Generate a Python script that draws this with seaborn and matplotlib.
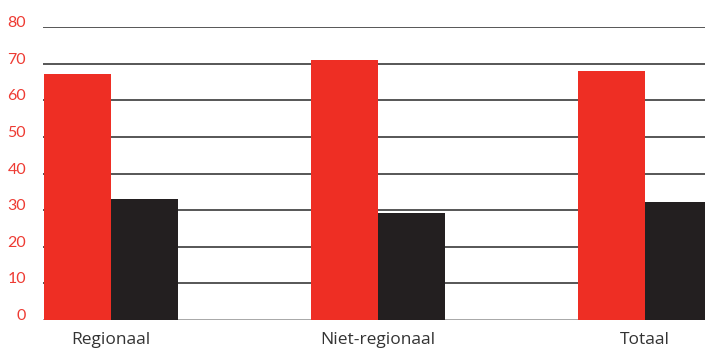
import matplotlib
matplotlib.use("Agg")
import matplotlib.pyplot as plt
import seaborn as sns
import pandas as pd

# Data
categories = ["Regionaal", "Niet-regionaal", "Totaal"]
series_names = ["reeks 1", "reeks 2"]
values_red = [67.2, 71.1, 68.0]
values_black = [33.1, 29.2, 32.2]
y_ticks = [0, 10, 20, 30, 40, 50, 60, 70, 80]

RED = "#EE2E24"
BLACK = "#231F20"

df = pd.DataFrame({
    "categorie": categories * 2,
    "reeks": [series_names[0]] * 3 + [series_names[1]] * 3,
    "waarde": values_red + values_black,
})

sns.set_theme(style="white")
plt.rcParams["font.family"] = ["Open Sans", "DejaVu Sans"]

fig = plt.figure(figsize=(7.05, 3.53), dpi=100)
ax = fig.add_axes([43 / 705, 33 / 353, 1 - 43 / 705, 292.7 / 353])

sns.barplot(
    data=df, x="categorie", y="waarde", hue="reeks",
    palette=[RED, BLACK], width=0.5, saturation=1,
    linewidth=0, legend=False, ax=ax, zorder=3,
)

ax.set_ylim(0, 80)
ax.set_xlim(-0.254, 2.225)
ax.set_yticks(y_ticks)
ax.set_yticklabels([str(t) for t in y_ticks])

for t in y_ticks:
    ax.axhline(t, color="#3a3a3a" if t else "#9a9a9a", lw=1.2, zorder=1)

for s in ax.spines.values():
    s.set_visible(False)

ax.set_xlabel("")
ax.set_ylabel("")
ax.tick_params(axis="y", length=0, pad=12.2, labelsize=11.5, labelcolor="#EE3B33")
ax.tick_params(axis="x", length=0, pad=9, labelsize=12.5, labelcolor="#333333")
for lab in ax.get_yticklabels():
    lab.set_verticalalignment("baseline")
    lab.set_fontfamily(["Lato", "DejaVu Sans"])

fig.savefig("out.png", dpi=100)
